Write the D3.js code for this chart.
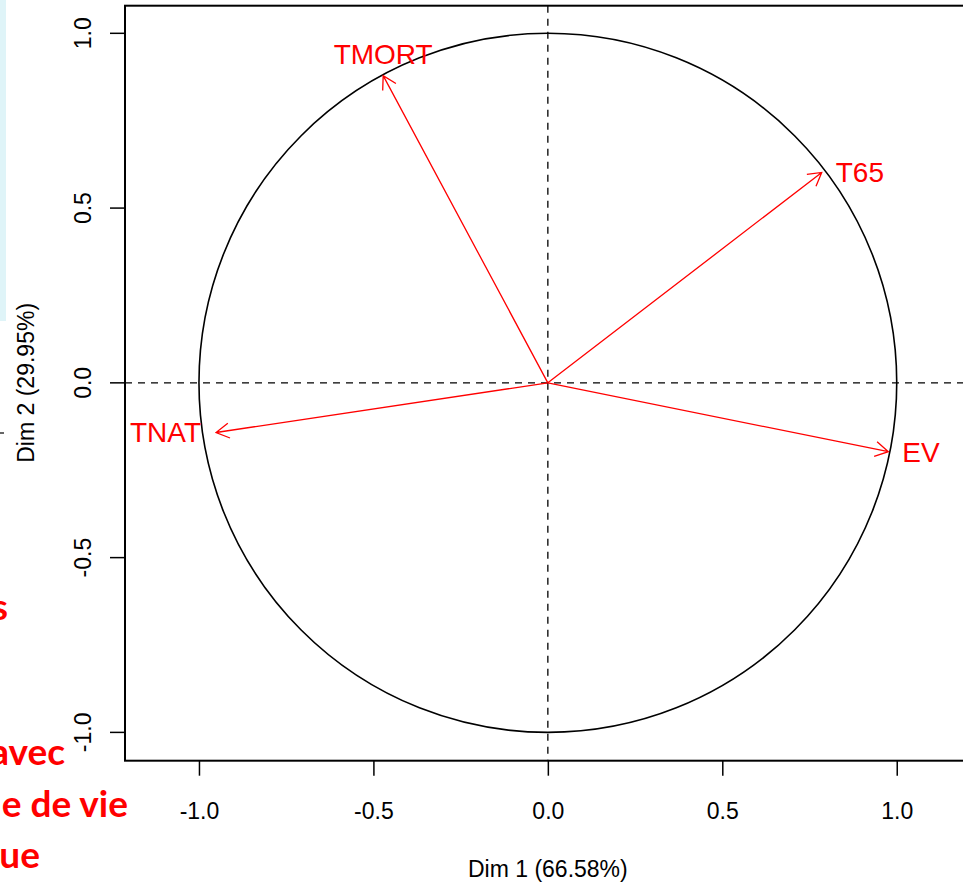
<!DOCTYPE html>
<html>
<head>
<meta charset="utf-8">
<script src="https://cdn.jsdelivr.net/npm/d3@7"></script>
<style>
  body { margin: 0; background: #fff; }
  svg { display: block; font-family: "Liberation Sans", Arial, sans-serif; }
</style>
</head>
<body>
<div id="chart"></div>
<script>
// variables and their coordinates on the first two dimensions
const variables = ["TMORT", "T65", "EV", "TNAT"];
const dim1 = [-0.472, 0.785, 0.976, -0.951];
const dim2 = [0.879, 0.602, -0.197, -0.142];

const tickValues = [-1.0, -0.5, 0.0, 0.5, 1.0];
const xTitle = "Dim 1 (66.58%)";
const yTitle = "Dim 2 (29.95%)";

// fragments of the slide text that the screenshot cuts on the left
const slideText = ["s", "avec", "e de vie", "ue"];

const W = 963, H = 885;

const svg = d3.select("#chart").append("svg")
    .attr("width", W)
    .attr("height", H);

// slide leftovers
svg.append("rect")
    .attr("x", 0).attr("y", 0)
    .attr("width", 6).attr("height", 321)
    .attr("fill", "#dff4f8");
svg.append("line")
    .attr("x1", 0).attr("x2", 4)
    .attr("y1", 433).attr("y2", 433)
    .attr("stroke", "#333").attr("stroke-width", 1.5);

const slideEnds = [[8, 620], [65, 765], [128, 817], [40, 868]];
svg.append("g")
    .selectAll("text")
    .data(slideText)
    .enter()
    .append("text")
    .attr("x", (d, i) => slideEnds[i][0])
    .attr("y", (d, i) => slideEnds[i][1])
    .attr("text-anchor", "end")
    .style("font-family", "Lato, 'Open Sans', sans-serif")
    .style("font-weight", "bold")
    .style("font-size", "37px")
    .attr("fill", "#ff0000")
    .text(d => d);

// scales
const x = d3.scaleLinear().domain([-1.212, 1.212]).range([125, 970.7]);
const y = d3.scaleLinear().domain([-1.081, 1.079]).range([760.7, 5.7]);

const fmt = d => d.toFixed(1);

// axes
const yAxis = svg.append("g")
    .attr("transform", "translate(" + x(-1.212) + ",0)")
    .call(d3.axisLeft(y).tickValues(tickValues).tickSize(15).tickPadding(20).tickFormat(fmt));
yAxis.select(".domain").remove();
yAxis.selectAll("line").attr("stroke", "#000").attr("stroke-width", 1.5);
yAxis.selectAll("text")
    .attr("x", null).attr("dy", null)
    .attr("transform", d => "translate(-34," + y(d) + ") rotate(-90)")
    .attr("y", 0)
    .attr("text-anchor", "middle")
    .style("font-size", "23px")
    .attr("fill", "#000");
yAxis.selectAll(".tick").attr("transform", null);
yAxis.selectAll(".tick line")
    .attr("y1", d => y(d)).attr("y2", d => y(d));

const xAxis = svg.append("g")
    .attr("transform", "translate(0," + y(-1.081) + ")")
    .call(d3.axisBottom(x).tickValues(tickValues).tickSize(15).tickFormat(fmt));
xAxis.select(".domain").remove();
xAxis.selectAll("line").attr("stroke", "#000").attr("stroke-width", 1.5);
xAxis.selectAll("text")
    .attr("y", 58).attr("dy", null)
    .style("font-size", "23px")
    .attr("fill", "#000");

// axis titles
svg.append("text")
    .attr("x", x(0)).attr("y", 877)
    .attr("text-anchor", "middle")
    .style("font-size", "23px")
    .text(xTitle);
svg.append("text")
    .attr("transform", "translate(34," + y(0) + ") rotate(-90)")
    .attr("text-anchor", "middle")
    .style("font-size", "23px")
    .text(yTitle);

// plot box
svg.append("rect")
    .attr("x", x(-1.212)).attr("y", y(1.079))
    .attr("width", x(1.212) - x(-1.212))
    .attr("height", y(-1.081) - y(1.079))
    .attr("fill", "none")
    .attr("stroke", "#000")
    .attr("stroke-width", 2);

// dashed reference lines
svg.append("line")
    .attr("x1", x(0)).attr("x2", x(0))
    .attr("y1", y(1.079)).attr("y2", y(-1.081))
    .attr("stroke", "#000").attr("stroke-width", 1.3)
    .attr("stroke-dasharray", "7,6");
svg.append("line")
    .attr("x1", x(-1.212)).attr("x2", x(1.212))
    .attr("y1", y(0)).attr("y2", y(0))
    .attr("stroke", "#000").attr("stroke-width", 1.3)
    .attr("stroke-dasharray", "7,6");

// correlation circle
svg.append("ellipse")
    .attr("cx", x(0)).attr("cy", y(0))
    .attr("rx", x(1) - x(0))
    .attr("ry", y(0) - y(1))
    .attr("fill", "none")
    .attr("stroke", "#000")
    .attr("stroke-width", 1.6);

// arrows
const data = variables.map((name, i) => ({ name: name, x: dim1[i], y: dim2[i] }));
const headLen = 15, headAngle = Math.PI / 6;

const arrows = svg.append("g")
    .attr("stroke", "#ff0000")
    .attr("stroke-width", 1.3)
    .attr("fill", "none");

arrows.selectAll("path")
    .data(data)
    .enter()
    .append("path")
    .attr("d", function(d) {
        let x0 = x(0), y0 = y(0), x1 = x(d.x), y1 = y(d.y);
        let a = Math.atan2(y1 - y0, x1 - x0);
        let h1 = [x1 - headLen * Math.cos(a - headAngle), y1 - headLen * Math.sin(a - headAngle)];
        let h2 = [x1 - headLen * Math.cos(a + headAngle), y1 - headLen * Math.sin(a + headAngle)];
        return "M" + x0 + "," + y0 + "L" + x1 + "," + y1 +
            "M" + h1[0] + "," + h1[1] + "L" + x1 + "," + y1 + "L" + h2[0] + "," + h2[1];
    });

// labels, placed like FactoMineR does: above/below or left/right of the tip
svg.append("g")
    .selectAll("text")
    .data(data)
    .enter()
    .append("text")
    .attr("x", function(d) {
        if (Math.abs(d.x) >= Math.abs(d.y)) return x(d.x) + (d.x > 0 ? 14 : -15);
        return x(d.x);
    })
    .attr("y", function(d) {
        if (Math.abs(d.x) >= Math.abs(d.y)) return y(d.y) + 10;
        return d.y > 0 ? y(d.y) - 12 : y(d.y) + 32;
    })
    .attr("text-anchor", function(d) {
        if (Math.abs(d.x) >= Math.abs(d.y)) return d.x > 0 ? "start" : "end";
        return "middle";
    })
    .style("font-size", "28px")
    .attr("fill", "#ff0000")
    .text(d => d.name);
</script>
</body>
</html>
